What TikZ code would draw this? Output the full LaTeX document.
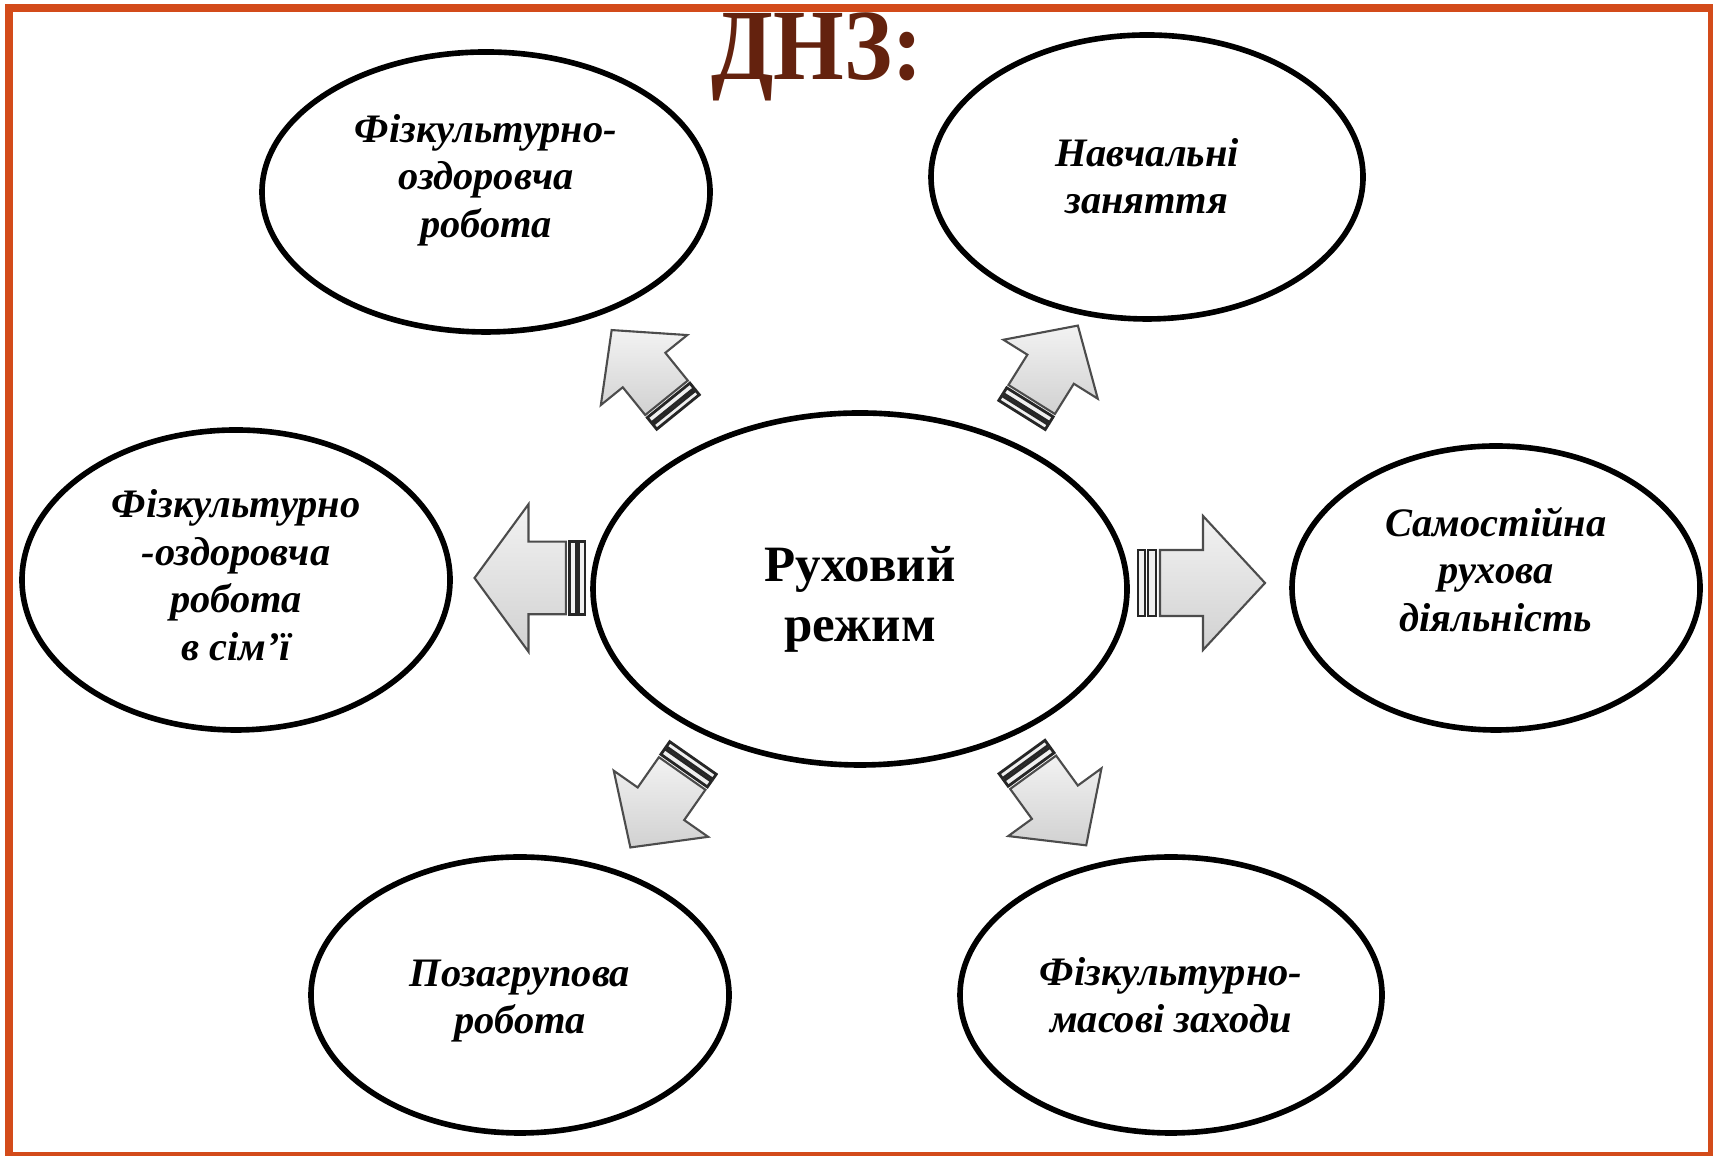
\documentclass[tikz,border=0pt]{standalone}
\usepackage{fontspec}
\usepackage{graphicx}
\setmainfont{Liberation Serif}
\usetikzlibrary{shapes.geometric}

\definecolor{frameorange}{RGB}{211,75,26}
\definecolor{titlebrown}{RGB}{100,34,14}

% text block of a bubble, raised by #1
\newcommand{\bubbletxt}[2]{\raisebox{#1}[0pt][0pt]{\begin{tabular}{@{}c@{}}#2\end{tabular}}}

\tikzset{
  bubble/.style={draw, ellipse, line width=1.6pt, inner sep=0pt,
    font=\fontsize{11.5}{13.5}\selectfont\bfseries\itshape},
  hub/.style={bubble, font=\fontsize{14.5}{17}\selectfont\bfseries},
  arrowpart/.style={draw=black!70, line width=0.6pt, top color=gray!10, bottom color=gray!36},
  arrowstripe/.style={draw=black!85, line width=0.8pt, fill=gray!12},
  stripearrow/.pic={
    \draw[arrowstripe] (0,-0.33) rectangle (0.07,0.33);
    \draw[arrowstripe] (0.10,-0.33) rectangle (0.18,0.33);
    \draw[arrowpart] (0.22,-0.33) -- (0.65,-0.33) -- (0.65,-0.67) -- (1.27,0)
      -- (0.65,0.67) -- (0.65,0.33) -- (0.22,0.33) -- cycle;
  }
}

\begin{document}
\begin{tikzpicture}
    \useasboundingbox (0,0) rectangle (17.13,11.56);
    % Frame
    \draw[frameorange, line width=0.08cm] (0.09,0) rectangle (17.12,11.48);

    % Centre and the six activities
    \node[hub, minimum width=5.34cm, minimum height=3.52cm] (rukh) at (8.60,5.67) {\bubbletxt{-0.23cm}{Руховий\\режим}};
    \node[bubble, minimum width=4.48cm, minimum height=2.80cm] (ftop) at (4.86,9.64) {\bubbletxt{0.01cm}{Фізкультурно-\\оздоровча\\робота}};
    \node[bubble, minimum width=4.32cm, minimum height=2.84cm] (navch) at (11.47,9.79) {\bubbletxt{-0.14cm}{Навчальні\\заняття}};
    \node[bubble, minimum width=4.28cm, minimum height=3.00cm] (fsim) at (2.36,5.76) {\bubbletxt{-0.10cm}{Фізкультурно\\-оздоровча\\робота\\в сім’ї}};
    \node[bubble, minimum width=4.08cm, minimum height=2.84cm] (samost) at (14.96,5.68) {\bubbletxt{0.03cm}{Самостійна\\рухова\\діяльність}};
    \node[bubble, minimum width=4.18cm, minimum height=2.76cm] (pozagr) at (5.20,1.61) {\bubbletxt{-0.16cm}{Позагрупова\\робота}};
    \node[bubble, minimum width=4.22cm, minimum height=2.76cm] (fmas) at (11.71,1.61) {\bubbletxt{-0.15cm}{Фізкультурно-\\масові заходи}};

    % Title
    \node[font=\fontsize{28.7}{30}\selectfont\bfseries, text=titlebrown, anchor=base] (title) at (8.17,10.76) {\scalebox{0.9}[1]{ДНЗ:}};

    % Block arrows
    \pic[rotate=129, scale=0.83] at (6.78,7.44) {stripearrow};
    \pic[rotate=58, scale=0.83] at (10.22,7.41) {stripearrow};
    \pic[rotate=235, scale=0.86] at (6.93,3.98) {stripearrow};
    \pic[rotate=306, scale=0.86] at (10.22,3.99) {stripearrow};
    \pic at (11.38,5.73) {stripearrow};
    \pic[rotate=180, xscale=0.87, yscale=1.1] at (5.85,5.78) {stripearrow};
\end{tikzpicture}
\end{document}
